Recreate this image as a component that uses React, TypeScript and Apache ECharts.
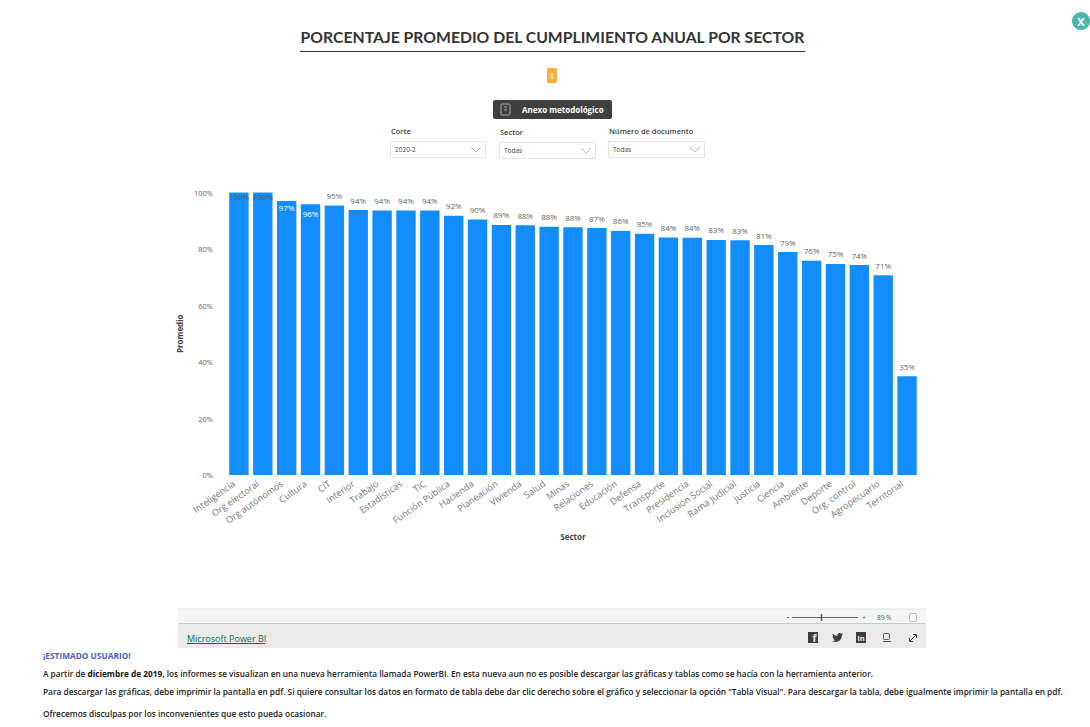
import React, { useEffect, useRef } from "react";
import * as echarts from "echarts";

const sectors = ["Inteligencia","Org electoral","Org autónomos","Cultura","CIT","Interior","Trabajo","Estadísticas","TIC","Función Pública","Hacienda","Planeación","Vivienda","Salud","Minas","Relaciones","Educación","Defensa","Transporte","Presidencia","Inclusión Social","Rama Judicial","Justicia","Ciencia","Ambiente","Deporte","Org. control","Agropecuario","Territorial"];
const promedio = [100,100,97,95.8,95.4,93.8,93.6,93.6,93.6,91.8,90.4,88.5,88.4,87.9,87.7,87.4,86.4,85.4,84.1,84,83.2,83.1,81.4,78.9,75.8,74.7,74.3,70.7,35];
const darkInside = ["Inteligencia","Org electoral"];
const whiteInside = ["Org autónomos","Cultura"];
const yTicks = [0,20,40,60,80,100];

const TITLE = "PORCENTAJE PROMEDIO DEL CUMPLIMIENTO ANUAL POR SECTOR";
const NOTICE_HEAD = "¡ESTIMADO USUARIO!";
const NOTICE_1A = "A partir de ";
const NOTICE_1B = "diciembre de 2019,";
const NOTICE_1C = " los informes se visualizan en una nueva herramienta llamada PowerBI. En esta nueva aun no es posible descargar las gráficas y tablas como se hacía con la herramienta anterior.";
const NOTICE_2 = "Para descargar las gráficas, debe imprimir la pantalla en pdf. Si quiere consultar los datos en formato de tabla debe dar clic derecho sobre el gráfico y seleccionar la opción \"Tabla Visual\". Para descargar la tabla, debe igualmente imprimir la pantalla en pdf.";
const NOTICE_3 = "Ofrecemos disculpas por los inconvenientes que esto pueda ocasionar.";
const slicers = [
  { label: "Corte", value: "2020-2", x: 390, y: 141, w: 95, h: 16, ly: 131 },
  { label: "Sector", value: "Todas", x: 499, y: 142, w: 96, h: 16, ly: 132 },
  { label: "Número de documento", value: "Todas", x: 608, y: 141, w: 96, h: 16, ly: 131 },
];

const FONT = "'Open Sans', 'Noto Sans', sans-serif";
const TWITTER = "M23.953 4.57a10 10 0 0 1-2.825.775 4.958 4.958 0 0 0 2.163-2.723c-.951.555-2.005.959-3.127 1.184a4.92 4.92 0 0 0-8.384 4.482C7.69 8.095 4.067 6.13 1.64 3.162a4.822 4.822 0 0 0-.666 2.475c0 1.71.87 3.213 2.188 4.096a4.904 4.904 0 0 1-2.228-.616v.06a4.923 4.923 0 0 0 3.946 4.827 4.996 4.996 0 0 1-2.212.085 4.936 4.936 0 0 0 4.604 3.417 9.867 9.867 0 0 1-6.102 2.105c-.39 0-.779-.023-1.17-.067a13.995 13.995 0 0 0 7.557 2.209c9.053 0 13.998-7.496 13.998-13.985 0-.21 0-.42-.015-.63A9.935 9.935 0 0 0 24 4.59z";
echarts.graphic.registerShape("twitterBird", echarts.graphic.extendPath(TWITTER as any, {}) as any);

const txt = (text: string, x: number, y: number, fontSize: number, fill: string, extra: any = {}) => ({
  type: "text", silent: true,
  style: { text, x, y, fontSize, fill, fontFamily: FONT, textVerticalAlign: "middle", ...extra },
});
const rect = (x: number, y: number, width: number, height: number, fill: string, extra: any = {}, r = 0) => ({
  type: "rect", silent: true, shape: { x, y, width, height, r }, style: { fill, ...extra },
});
const line = (x1: number, y1: number, x2: number, y2: number, stroke: string, lineWidth = 1) => ({
  type: "line", silent: true, shape: { x1, y1, x2, y2 }, style: { stroke, lineWidth },
});
const poly = (points: number[][], stroke: string, lineWidth = 1) => ({
  type: "polyline", silent: true, shape: { points }, style: { stroke, lineWidth, fill: "none" },
});

function pageGraphics() {
  const g: any[] = [];
  // close button
  g.push({ type: "circle", silent: true, shape: { cx: 1081, cy: 21, r: 9 }, style: { fill: "#4db6ac" } });
  g.push(txt("X", 1081, 21, 11, "#ffffff", { fontWeight: "bold", textAlign: "center" }));
  // title
  g.push(txt(TITLE, 552.5, 36, 15.75, "#333333", { fontWeight: "bold", textAlign: "center", fontFamily: "Lato, 'Open Sans', sans-serif" }));
  g.push(line(300, 51.5, 805, 51.5, "#333333", 1));
  // warning marker
  g.push(rect(547, 68, 10, 15, "#fbb040"));
  g.push(txt("!", 552, 75.5, 9, "#ffffff", { fontWeight: "bold", textAlign: "center" }));
  // annex button
  g.push(rect(493, 100, 119, 19, "#3f3f3f", {}, 2));
  g.push(rect(501, 104, 9, 11, "none", { stroke: "#a8a8a8", lineWidth: 1 }, 1));
  g.push(line(504, 107, 507, 107, "#a8a8a8"), line(504, 110, 507, 110, "#a8a8a8"));
  g.push(txt("Anexo metodológico", 522, 109.5, 8, "#ffffff", { fontWeight: "bold" }));
  // slicers
  slicers.forEach((s) => {
    g.push(txt(s.label, s.x + 1, s.ly, 7.5, "#444444", { fontWeight: 600 }));
    g.push(rect(s.x + 0.5, s.y + 0.5, s.w, s.h, "#ffffff", { stroke: "#e4e4e4", lineWidth: 1 }));
    g.push(txt(s.value, s.x + 5, s.y + 8.5, 6.5, "#444444"));
    const cx = s.x + s.w - 9;
    g.push(poly([[cx - 5, s.y + 6], [cx, s.y + 11], [cx + 5, s.y + 6]], "#b5b5b5"));
  });
  // report footer
  g.push(rect(178, 609, 748, 14, "#f4f4f4"));
  g.push(rect(178, 624, 748, 24, "#eaeaea"));
  g.push(line(178, 609, 926, 609, "#e2e2e2"), line(178, 623.5, 926, 623.5, "#c8c8c8"));
  g.push(txt("Microsoft Power BI", 187, 638, 9, "#0d6b54"));
  g.push(line(187, 643.5, 265, 643.5, "#0d6b54"));
  g.push(line(787, 617.5, 789, 617.5, "#666666"), line(792, 617.5, 858, 617.5, "#666666"));
  g.push(line(821.5, 614, 821.5, 621, "#555555", 1.5));
  g.push(txt("+", 864, 617.5, 7, "#666666", { textAlign: "center" }));
  g.push(txt("89 %", 877, 617, 6.5, "#555555"));
  g.push(rect(909.5, 613.5, 7, 8, "none", { stroke: "#bdbdbd", lineWidth: 1 }, 1));
  // sharing icons
  g.push(rect(808, 632, 10, 11, "#3d3d3d"));
  g.push(txt("f", 814.5, 638, 10, "#eaeaea", { fontWeight: "bold", textAlign: "center" }));
  g.push({ type: "twitterBird", silent: true, x: 832, y: 632, scaleX: 0.46, scaleY: 0.46, style: { fill: "#3d3d3d" } });
  g.push(rect(856, 632, 10, 11, "#3d3d3d"));
  g.push(txt("in", 861, 638, 7.5, "#eaeaea", { fontWeight: "bold", textAlign: "center" }));
  g.push(rect(883.5, 633.5, 6, 6, "none", { stroke: "#555555", lineWidth: 1 }, 1));
  g.push(line(883, 641.5, 891, 641.5, "#555555"));
  g.push(poly([[910, 641], [916, 635]], "#3d3d3d"), poly([[913, 634.5], [916.5, 634.5], [916.5, 638]], "#3d3d3d"), poly([[909.5, 638], [909.5, 641.5], [913, 641.5]], "#3d3d3d"));
  // notice
  g.push(txt(NOTICE_HEAD, 43, 655, 8.3, "#3f62c8", { fontWeight: "bold" }));
  g.push({
    type: "text", silent: true,
    style: {
      x: 43, y: 673, textVerticalAlign: "middle", fontFamily: FONT, fontSize: 8.27, fill: "#222222", fontWeight: 600,
      text: `{a|${NOTICE_1A}}{b|${NOTICE_1B}}{a|${NOTICE_1C}}`,
      rich: {
        a: { fontFamily: FONT, fontSize: 8.27, fill: "#222222", fontWeight: 600 },
        b: { fontFamily: FONT, fontSize: 8.27, fill: "#111111", fontWeight: "bold" },
      },
    },
  });
  g.push(txt(NOTICE_2, 43, 691, 8.3, "#222222", { fontWeight: 600 }));
  g.push(txt(NOTICE_3, 43, 713, 8.3, "#222222", { fontWeight: 600 }));
  return g;
}

const insideDistance: Record<string, number> = { "Inteligencia": 0, "Org electoral": 0, "Org autónomos": 3, "Cultura": 5 };

export default function App() {
  const ref = useRef<HTMLDivElement>(null);
  useEffect(() => {
    const chart = echarts.init(ref.current!, undefined, { renderer: "svg" });
    chart.setOption({
      animation: false,
      backgroundColor: "#ffffff",
      grid: { left: 227, top: 192.5, width: 692, height: 282.5, containLabel: false },
      xAxis: {
        type: "category",
        data: sectors,
        name: "Sector",
        nameLocation: "middle",
        nameGap: 57,
        nameTextStyle: { fontFamily: FONT, fontSize: 8, fontWeight: "bold", color: "#444444" },
        axisLine: { show: false },
        axisTick: { show: false },
        axisLabel: { rotate: 35, interval: 0, margin: 4, padding: [0, 6, 0, 0], fontFamily: FONT, fontSize: 9.2, color: "#777777" },
      },
      yAxis: {
        type: "value",
        min: yTicks[0],
        max: yTicks[yTicks.length - 1],
        interval: 20,
        name: "Promedio",
        nameLocation: "middle",
        nameGap: 39,
        nameTextStyle: { fontFamily: FONT, fontSize: 8, fontWeight: "bold", color: "#444444" },
        splitLine: { show: false },
        axisLine: { show: false },
        axisTick: { show: false },
        axisLabel: { margin: 14, fontFamily: FONT, fontSize: 7.5, color: "#666666", formatter: "{value}%" },
      },
      series: [{
        type: "bar",
        barWidth: 19.4,
        itemStyle: { color: "#118dff" },
        label: { show: true, position: "top", distance: 6, fontFamily: FONT, fontSize: 8, color: "#666666", formatter: (p: any) => `${Math.round(p.value)}%` },
        data: sectors.map((s, i) => {
          const inside = darkInside.includes(s) || whiteInside.includes(s);
          return inside
            ? { value: promedio[i], label: { position: "insideTop", distance: insideDistance[s], color: darkInside.includes(s) ? "#555555" : "#ffffff" } }
            : { value: promedio[i] };
        }),
      }],
      graphic: { elements: pageGraphics() },
    });
    return () => chart.dispose();
  }, []);
  return <div ref={ref} style={{ position: "fixed", left: 0, top: 0, width: 1090, height: 727 }} />;
}
